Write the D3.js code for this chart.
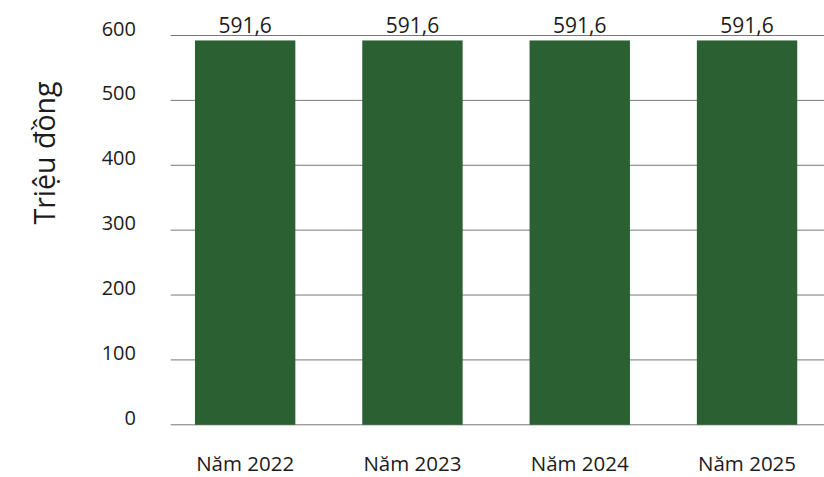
<!DOCTYPE html>
<html>
<head>
<meta charset="utf-8">
<script src="https://cdn.jsdelivr.net/npm/d3@7"></script>
<style>
  html, body { margin: 0; padding: 0; background: #ffffff; }
  svg { display: block; }
  text { font-family: "Open Sans", "Noto Sans", sans-serif; fill: #1e1b1c; }
</style>
</head>
<body>
<svg id="chart" width="824" height="477"></svg>
<script>
// Thu nhập bình quân theo năm (triệu đồng)
const categories = ["Năm 2022", "Năm 2023", "Năm 2024", "Năm 2025"];
const values = [591.6, 591.6, 591.6, 591.6];
const valueLabels = ["591,6", "591,6", "591,6", "591,6"];
const yTicks = [0, 100, 200, 300, 400, 500, 600];
const yTitle = "Triệu đồng";

const svg = d3.select("#chart");

const gridLeft = 170.7, gridRight = 824;

const x = d3.scaleBand()
  .domain(categories)
  .range([161.5, 830.7])
  .paddingInner(0.4)
  .paddingOuter(0.2);

const y = d3.scaleLinear()
  .domain([0, 600])
  .range([424.3, 35]);

// gridlines
svg.append("g")
  .selectAll("line")
  .data(yTicks)
  .join("line")
  .attr("x1", gridLeft)
  .attr("x2", gridRight)
  .attr("y1", d => y(d) + 0.5)
  .attr("y2", d => y(d) + 0.5)
  .attr("stroke", "#777777")
  .attr("stroke-width", 1);

// y tick labels
svg.append("g")
  .selectAll("text")
  .data(yTicks)
  .join("text")
  .attr("x", 136)
  .attr("y", d => y(d) + 0.5)
  .attr("text-anchor", "end")
  .attr("font-size", 20)
  .text(d => d);

// bars
svg.append("g")
  .selectAll("rect")
  .data(values)
  .join("rect")
  .attr("x", (d, i) => x(categories[i]))
  .attr("width", x.bandwidth())
  .attr("y", d => y(d))
  .attr("height", d => y(0) - y(d) + 0.5)
  .attr("fill", "#2b6033");

// value labels
svg.append("g")
  .selectAll("text")
  .data(values)
  .join("text")
  .attr("x", (d, i) => x(categories[i]) + x.bandwidth() / 2)
  .attr("y", 32.5)
  .attr("text-anchor", "middle")
  .attr("font-size", 21)
  .text((d, i) => valueLabels[i]);

// category labels
svg.append("g")
  .selectAll("text")
  .data(categories)
  .join("text")
  .attr("x", d => x(d) + x.bandwidth() / 2)
  .attr("y", 471)
  .attr("text-anchor", "middle")
  .attr("font-size", 20.5)
  .text(d => d);

// y axis title
svg.append("text")
  .attr("transform", "translate(55,153) rotate(-90)")
  .attr("text-anchor", "middle")
  .attr("font-size", 28.5)
  .text(yTitle);
</script>
</body>
</html>
